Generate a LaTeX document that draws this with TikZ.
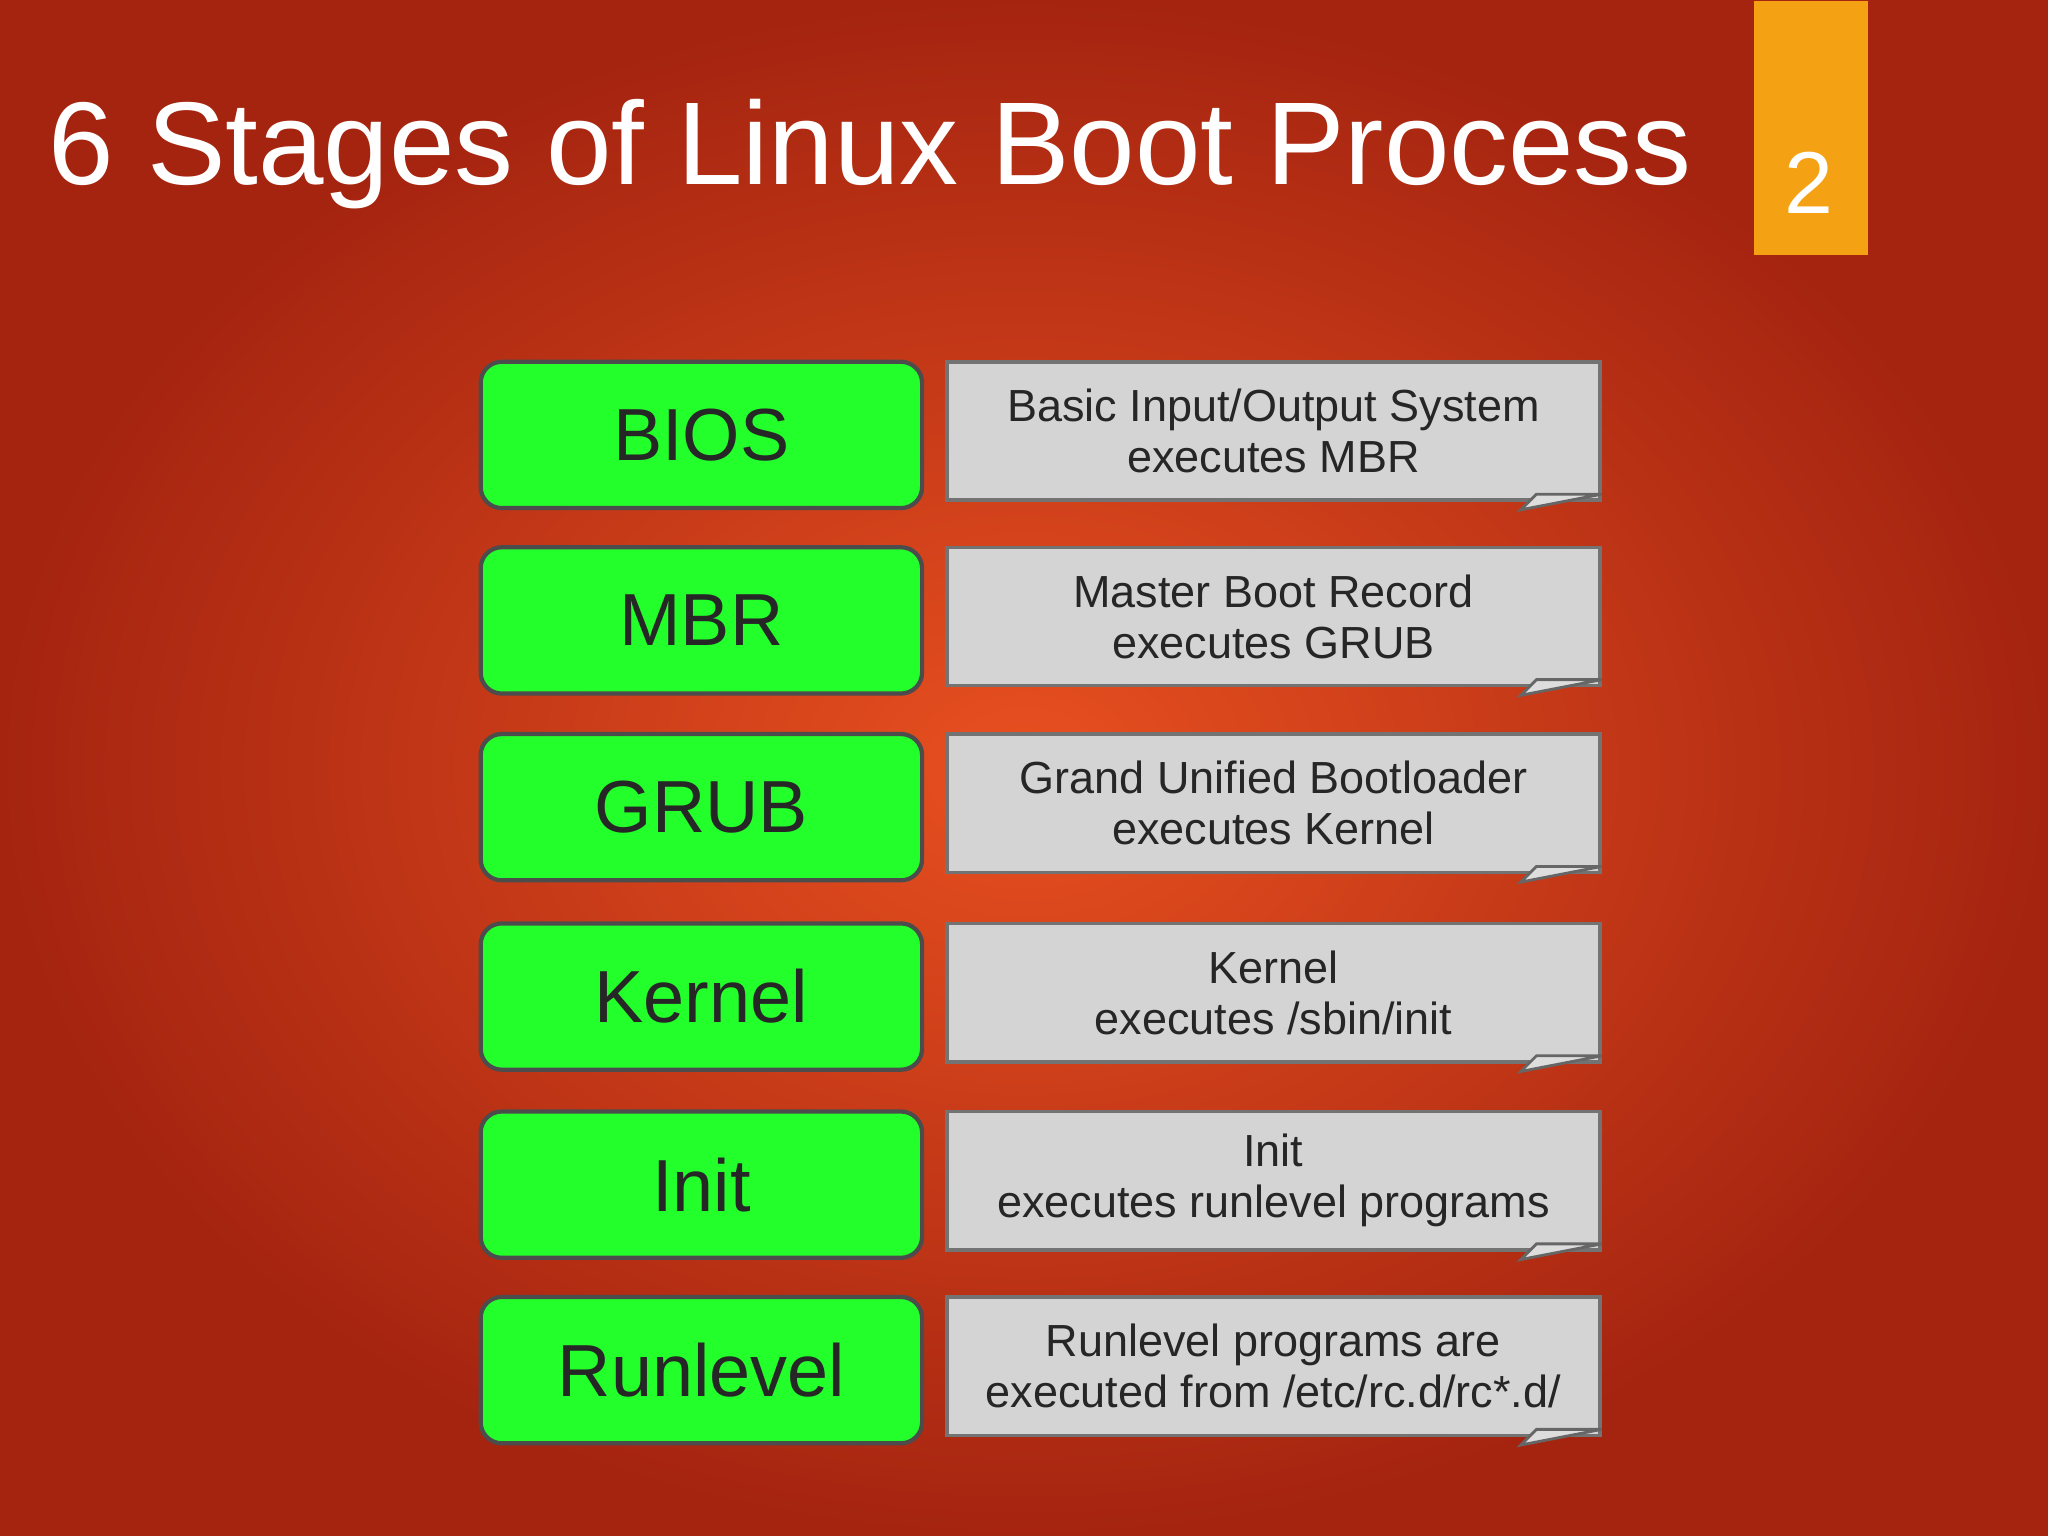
\documentclass[tikz,border=0pt]{standalone}
\usepackage{fontspec}
\setmainfont{Liberation Sans}
\begin{document}
\begin{tikzpicture}[x=0.0130612cm,y=-0.0130612cm,
  stage/.style={draw=black!70,line width=1.2pt,fill=green1,rounded corners=6pt,minimum width=338*0.0130612cm,minimum height=112*0.0130612cm,inner sep=0pt,font=\fontsize{21}{24}\selectfont,text=black!85},
  desc/.style={draw=black!55,line width=1pt,fill=gray1,minimum width=500*0.0130612cm,minimum height=106*0.0130612cm,inner sep=0pt,align=center,font=\fontsize{12.8}{14.5}\selectfont,text=black!85}]
\definecolor{green1}{HTML}{22FF2A}
\definecolor{gray1}{HTML}{D4D4D4}
\definecolor{tab}{HTML}{F4A114}
\useasboundingbox (0,0) rectangle (1568,1176);
\shade[inner color={rgb,255:red,232;green,80;blue,32},outer color={rgb,255:red,165;green,36;blue,16}] (0,0) rectangle (1568,1176);
\node[fill=tab,minimum width=88*0.0130612cm,minimum height=195*0.0130612cm,inner sep=0pt,anchor=north west] (tab) at (1342,0) {};
\node[text=white,font=\fontsize{25}{28}\selectfont] (num) at (1385,140) {2};
\node[text=white,anchor=west,font=\fontsize{33.5}{38}\selectfont] (title) at (28,118) {6 Stages of Linux Boot Process};
\foreach \n/\y/\a/\b in {1/333/BIOS/{Basic Input/Output System\\executes MBR},
  2/475/MBR/{Master Boot Record\\executes GRUB},
  3/618/GRUB/{Grand Unified Bootloader\\executes Kernel},
  4/763/Kernel/{Kernel\\executes /sbin/init},
  5/907/Init/{Init\\executes runlevel programs},
  6/1049/Runlevel/{Runlevel programs are\\executed from /etc/rc.d/rc*.d/}}{
  \node[stage] (s\n) at (537,\y) {\a};
  \node[desc] (d\n) at (975,\y-3) {\b};
  \draw[black!60,line width=0.8pt,fill=gray1!80] ([xshift=-62*0.0130612cm,yshift=-6*0.0130612cm]d\n.south east) -- ([xshift=-50*0.0130612cm,yshift=6*0.0130612cm]d\n.south east) -- ([yshift=6*0.0130612cm]d\n.south east) -- cycle;
}
\end{tikzpicture}
\end{document}
